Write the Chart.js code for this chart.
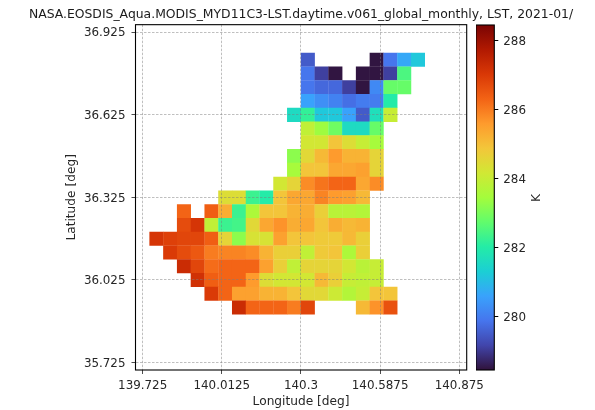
<!DOCTYPE html>
<html>
<head>
<meta charset="utf-8">
<title>LST 2021-01</title>
<script src="https://cdn.jsdelivr.net/npm/chart.js@4"></script>
<style>
    html, body { margin: 0; padding: 0; background: #fff; overflow: hidden; width: 595px; height: 410px; }
    canvas { position: absolute; top: 0; }
    #mapChart { left: 0; }
    #barChart { left: 476px; }
</style>
</head>
<body>
<canvas id="mapChart" width="602" height="410"></canvas>
<canvas id="barChart" width="119" height="410"></canvas>
<script>
// Cell centres (degrees)
const lonCenters = [139.775, 139.825, 139.875, 139.925, 139.975, 140.025, 140.075, 140.125, 140.175, 140.225,
    140.275, 140.325, 140.375, 140.425, 140.475, 140.525, 140.575, 140.625, 140.675, 140.725];
const latCenters = [36.825, 36.775, 36.725, 36.675, 36.625, 36.575, 36.525, 36.475, 36.425, 36.375,
    36.325, 36.275, 36.225, 36.175, 36.125, 36.075, 36.025, 35.975, 35.925];

// LST in K, one row per latitude, one value per longitude (null = no data)
const _ = null;
const lstRows = [
    [_,_,_,_,_,_,_,_,_,_,_,279.5,_,_,_,_,278.5,279.9,280.7,281.2],
    [_,_,_,_,_,_,_,_,_,_,_,279.9,279.1,278.5,_,278.5,278.5,279.1,282.5,_],
    [_,_,_,_,_,_,_,_,_,_,_,279.9,279.7,279.7,279.1,278.5,280.2,282.8,282.8,_],
    [_,_,_,_,_,_,_,_,_,_,_,280.6,280.3,280.1,279.8,280.0,280.0,282.0,_,_],
    [_,_,_,_,_,_,_,_,_,_,281.6,282.2,281.2,281.2,280.6,279.5,281.7,284.0,_,_],
    [_,_,_,_,_,_,_,_,_,_,_,283.9,283.4,282.9,281.6,281.6,282.8,_,_,_],
    [_,_,_,_,_,_,_,_,_,_,_,284.2,284.2,284.9,284.4,284.0,283.5,_,_,_],
    [_,_,_,_,_,_,_,_,_,_,283.2,284.5,285.1,285.6,285.2,285.2,284.6,_,_,_],
    [_,_,_,_,_,_,_,_,_,_,283.5,284.9,284.9,285.4,285.4,285.5,284.6,_,_,_],
    [_,_,_,_,_,_,_,_,_,284.2,284.6,285.8,286.1,286.3,286.3,285.4,285.8,_,_,_],
    [_,_,_,_,_,284.4,284.4,282.3,282.0,284.9,285.4,285.4,285.9,285.6,285.5,285.1,_,_,_,_],
    [_,_,286.3,_,286.4,285.3,282.3,283.6,284.9,284.9,285.2,285.3,284.7,283.8,283.8,283.7,_,_,_,_],
    [_,_,286.7,287.1,283.9,282.3,282.4,284.5,285.4,285.7,285.3,285.4,284.9,285.3,285.1,285.2,_,_,_,_],
    [287.1,286.9,286.8,286.8,286.4,284.6,283.2,284.3,284.3,285.5,284.9,284.9,284.8,284.8,285.1,284.7,_,_,_,_],
    [_,287.0,286.7,286.5,286.0,285.9,285.9,285.8,285.2,284.7,284.7,283.9,284.8,284.9,283.6,284.7,_,_,_,_],
    [_,_,287.3,286.8,286.2,286.3,286.3,286.3,285.5,284.7,283.9,284.6,284.6,284.6,284.2,283.8,284.0,_,_,_],
    [_,_,_,287.2,286.4,286.3,286.3,285.6,284.4,284.2,284.2,284.2,285.1,284.7,284.0,283.9,284.0,_,_,_],
    [_,_,_,_,287.0,286.3,285.5,285.5,285.2,285.2,284.9,284.5,284.5,284.1,283.7,284.0,284.9,284.9,_,_],
    [_,_,_,_,_,_,287.3,286.3,286.3,286.3,286.0,286.8,_,_,_,285.1,285.7,286.6,_,_]
];

const xTicks = [139.725, 140.0125, 140.3, 140.5875, 140.875];
const yTicks = [35.725, 36.025, 36.325, 36.625, 36.925];
const barTicks = [280, 282, 284, 286, 288];

const lstMin = 278.46;
const lstMax = 288.46;

// Turbo colormap stops
const turboStops = [
    [48, 18, 59], [65, 69, 171], [70, 117, 237], [57, 162, 252], [27, 207, 212],
    [36, 236, 166], [97, 252, 108], [164, 252, 60], [209, 232, 52], [243, 198, 58],
    [254, 155, 45], [243, 99, 21], [217, 56, 6], [177, 25, 1], [122, 4, 3]
];

function turbo(t) {
    const pos = Math.min(Math.max(t, 0), 1) * (turboStops.length - 1);
    const i = Math.min(Math.floor(pos), turboStops.length - 2);
    const f = pos - i;
    const c = [0, 1, 2].map(k => Math.round(turboStops[i][k] + (turboStops[i + 1][k] - turboStops[i][k]) * f));
    return `rgb(${c[0]}, ${c[1]}, ${c[2]})`;
}

function lstColor(value) {
    return turbo((value - lstMin) / (lstMax - lstMin));
}

// Flatten the rows into points for the scatter dataset
const cellPoints = [];
lstRows.forEach((row, r) => {
    row.forEach((value, c) => {
        if (value !== null) {
            cellPoints.push({ x: lonCenters[c], y: latCenters[r], v: value });
        }
    });
});

const fontFamily = "'DejaVu Sans', sans-serif";
const fontSize = 11.9;
const titleSize = 12.4;
const labelSize = 12.2;
const textColor = '#262626';
const gridColor = 'rgba(125, 125, 125, 0.7)';

// Black box around the plot area
const framePlugin = {
    id: 'frame',
    afterDraw(chart) {
        const a = chart.chartArea;
        const ctx = chart.ctx;
        ctx.save();
        ctx.strokeStyle = '#000';
        ctx.lineWidth = 1.1;
        ctx.strokeRect(a.left, a.top, a.right - a.left, a.bottom - a.top);
        ctx.restore();
    }
};

// Rotated colorbar label (matplotlib turns it the other way round from Chart.js)
const barLabelPlugin = {
    id: 'barLabel',
    afterDraw(chart) {
        const ctx = chart.ctx;
        ctx.save();
        ctx.translate(60.7, 198);
        ctx.rotate(-Math.PI / 2);
        ctx.font = labelSize + 'px ' + fontFamily;
        ctx.fillStyle = textColor;
        ctx.textAlign = 'center';
        ctx.textBaseline = 'middle';
        ctx.fillText('K', 0, 0);
        ctx.restore();
    }
};

function generateMapChart() {
    const ctx = document.getElementById('mapChart').getContext('2d');
    return new Chart(ctx, {
        type: 'scatter',
        data: {
            datasets: [{
                data: cellPoints,
                xAxisID: 'x',
                yAxisID: 'y',
                pointStyle: 'rect',
                // radius so that the square covers one 0.05 deg cell
                pointRadius: function(context) {
                    const sx = context.chart.scales.x;
                    const side = Math.abs(sx.getPixelForValue(140.05) - sx.getPixelForValue(140));
                    return (side + 0.3) / Math.SQRT2;
                },
                pointBorderWidth: 0,
                pointBackgroundColor: function(context) {
                    return context.raw ? lstColor(context.raw.v) : '#fff';
                }
            }]
        },
        options: {
            responsive: false,
            animation: false,
            plugins: {
                legend: { display: false },
                tooltip: { enabled: false },
                title: {
                    display: true,
                    text: 'NASA.EOSDIS_Aqua.MODIS_MYD11C3-LST.daytime.v061_global_monthly, LST, 2021-01/',
                    color: '#1a1a1a',
                    font: { family: fontFamily, size: titleSize, weight: 'normal' },
                    padding: { top: 7.5, bottom: 2.3 }
                }
            },
            scales: {
                x: {
                    type: 'linear',
                    min: 139.699,
                    max: 140.902,
                    afterBuildTicks: function(scale) {
                        scale.ticks = xTicks.map(v => ({ value: v }));
                    },
                    afterFit: function(scale) { scale.height = 40; },
                    ticks: {
                        autoSkip: false,
                        maxRotation: 0,
                        padding: 5,
                        color: textColor,
                        font: { family: fontFamily, size: fontSize },
                        callback: value => String(value)
                    },
                    grid: {
                        z: 1,
                        color: gridColor,
                        lineWidth: 0.7,
                        tickColor: '#000',
                        tickLength: 4,
                        tickBorderDash: []
                    },
                    border: { display: false, dash: [2.5, 1.5] },
                    title: {
                        display: true,
                        text: 'Longitude [deg]',
                        color: textColor,
                        font: { family: fontFamily, size: labelSize },
                        padding: { top: 1, bottom: 1 }
                    }
                },
                y: {
                    type: 'linear',
                    min: 35.698,
                    max: 36.9526,
                    afterBuildTicks: function(scale) {
                        scale.ticks = yTicks.map(v => ({ value: v }));
                    },
                    afterFit: function(scale) { scale.width = 135.5; },
                    ticks: {
                        autoSkip: false,
                        padding: 6,
                        labelOffset: 1,
                        color: textColor,
                        font: { family: fontFamily, size: fontSize },
                        callback: value => String(value)
                    },
                    grid: {
                        z: 1,
                        color: gridColor,
                        lineWidth: 0.7,
                        tickColor: '#000',
                        tickLength: 4,
                        tickBorderDash: []
                    },
                    border: { display: false, dash: [2.5, 1.5] },
                    title: {
                        display: true,
                        text: 'Latitude [deg]',
                        color: textColor,
                        font: { family: fontFamily, size: labelSize },
                        padding: { top: 65, bottom: 0 }
                    }
                },
                // empty axis, only keeps the right margin free
                marginRight: {
                    type: 'linear',
                    position: 'right',
                    ticks: { display: false },
                    grid: { display: false },
                    border: { display: false },
                    afterFit: function(scale) { scale.width = 135.3; }
                }
            }
        },
        plugins: [framePlugin]
    });
}

function generateBarChart() {
    const ctx = document.getElementById('barChart').getContext('2d');
    return new Chart(ctx, {
        type: 'bar',
        data: {
            labels: ['K'],
            datasets: [{
                data: [[lstMin, lstMax]],
                barPercentage: 1,
                categoryPercentage: 1,
                borderSkipped: false,
                backgroundColor: function(context) {
                    const chart = context.chart;
                    if (!chart.chartArea) {
                        return '#fff';
                    }
                    const sy = chart.scales.y;
                    const grad = chart.ctx.createLinearGradient(0, sy.getPixelForValue(lstMin), 0, sy.getPixelForValue(lstMax));
                    turboStops.forEach((c, i) => {
                        grad.addColorStop(i / (turboStops.length - 1), `rgb(${c[0]}, ${c[1]}, ${c[2]})`);
                    });
                    return grad;
                }
            }]
        },
        options: {
            responsive: false,
            animation: false,
            layout: { padding: { top: 25, bottom: 40 } },
            plugins: {
                legend: { display: false },
                tooltip: { enabled: false }
            },
            scales: {
                x: { display: false },
                y: {
                    position: 'right',
                    min: lstMin,
                    max: lstMax,
                    afterBuildTicks: function(scale) {
                        scale.ticks = barTicks.map(v => ({ value: v }));
                    },
                    afterFit: function(scale) { scale.width = 100.7; },
                    ticks: {
                        autoSkip: false,
                        padding: 5,
                        labelOffset: 1,
                        color: textColor,
                        font: { family: fontFamily, size: fontSize },
                        callback: value => String(value)
                    },
                    grid: {
                        drawOnChartArea: false,
                        tickColor: '#000',
                        tickLength: 4
                    },
                    border: { display: false }
                }
            }
        },
        plugins: [framePlugin, barLabelPlugin]
    });
}

generateMapChart();
generateBarChart();
</script>
</body>
</html>
